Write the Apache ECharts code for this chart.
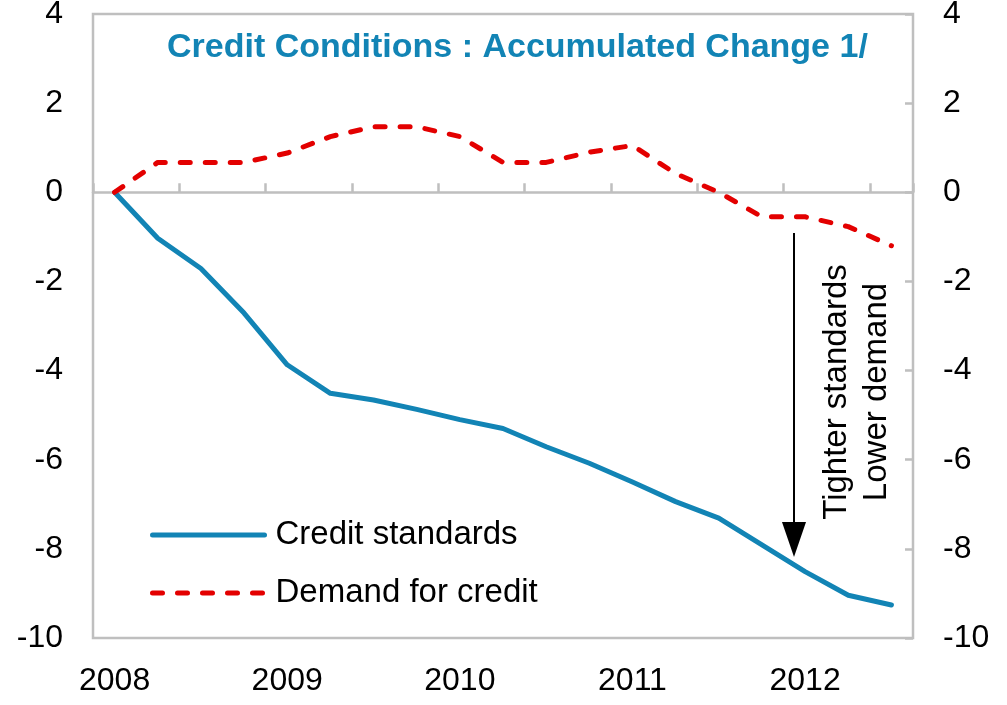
<!DOCTYPE html>
<html><head><meta charset="utf-8">
<script src="https://cdn.jsdelivr.net/npm/echarts@6/dist/echarts.min.js"></script>
<style>html,body{margin:0;padding:0;background:#fff}#c{width:1007px;height:705px}</style>
</head><body><div id="c"></div>
<script>
const quarters = ['2008Q1','2008Q2','2008Q3','2008Q4','2009Q1','2009Q2','2009Q3','2009Q4','2010Q1','2010Q2','2010Q3','2010Q4','2011Q1','2011Q2','2011Q3','2011Q4','2012Q1','2012Q2','2012Q3'];
const creditStandards = [0, -1.03, -1.71, -2.71, -3.87, -4.51, -4.66, -4.87, -5.1, -5.3, -5.71, -6.08, -6.5, -6.94, -7.31, -7.91, -8.51, -9.04, -9.26];
const demandForCredit = [0, 0.67, 0.67, 0.67, 0.88, 1.25, 1.47, 1.47, 1.25, 0.67, 0.67, 0.9, 1.05, 0.42, 0, -0.55, -0.55, -0.77, -1.2];
const seriesNames = ['Credit standards', 'Demand for credit'];
const titleText = 'Credit Conditions : Accumulated Change 1/';
const annotationText = 'Tighter standards\nLower demand';

const FONT = "'Liberation Sans', Arial, sans-serif";
const GRAY = '#BFBFBF';
const BLUE = '#1284B5';
const RED = '#E30000';

const chart = echarts.init(document.getElementById('c'), null, {renderer: 'canvas'});
chart.setOption({
  animation: false,
  backgroundColor: '#fff',
  title: {
    text: titleText, left: 167, top: 31, padding: 0,
    textStyle: {fontFamily: FONT, fontSize: 34, fontWeight: 'bold', color: BLUE}
  },
  legend: {
    orient: 'vertical', left: 150, top: 517, padding: 0, itemGap: 22,
    itemWidth: 112, itemHeight: 5,
    itemStyle: {opacity: 0},
    lineStyle: {width: 5, cap: 'round'},
    textStyle: {fontFamily: FONT, fontSize: 33, color: '#000', lineHeight: 36, padding: [0,0,0,6]},
    data: seriesNames
  },
  grid: {left: 93, right: 94, top: 14, bottom: 67, show: true, borderColor: GRAY, borderWidth: 2.5, outerBoundsMode: 'none', containLabel: false},
  xAxis: [
    {type: 'category', data: quarters, boundaryGap: true, position: 'bottom',
     axisLine: {show: false, onZero: false}, axisTick: {show: false},
     axisLabel: {interval: 3, formatter: v => v.slice(0, 4), margin: 27, fontFamily: FONT, fontSize: 32, color: '#000'},
     splitLine: {show: false}},
    {type: 'category', data: quarters, boundaryGap: true, position: 'top',
     axisLine: {show: true, onZero: true, lineStyle: {color: GRAY, width: 2.5}},
     axisTick: {show: true, interval: 1, inside: false, length: 9, lineStyle: {color: GRAY, width: 2.5}},
     axisLabel: {show: false}, splitLine: {show: false}}
  ],
  yAxis: [
    {type: 'value', min: -10, max: 4, interval: 2, position: 'left',
     axisLine: {show: false}, axisTick: {show: false}, splitLine: {show: false},
     axisLabel: {margin: 30, fontFamily: FONT, fontSize: 32, color: '#000'}},
    {type: 'value', min: -10, max: 4, interval: 2, position: 'right',
     axisLine: {show: false}, axisTick: {show: true, inside: true, length: 8, lineStyle: {color: GRAY, width: 2.5}},
     splitLine: {show: false},
     axisLabel: {margin: 30, fontFamily: FONT, fontSize: 32, color: '#000'}}
  ],
  series: [
    {name: seriesNames[0], type: 'line', xAxisIndex: 0, yAxisIndex: 0, data: creditStandards,
     symbol: 'none', lineStyle: {color: BLUE, width: 5, join: 'round', cap: 'round'}, itemStyle: {color: BLUE}, z: 3},
    {name: seriesNames[1], type: 'line', xAxisIndex: 0, yAxisIndex: 0, data: demandForCredit,
     symbol: 'none', lineStyle: {color: RED, width: 5, type: [10, 15], cap: 'round', join: 'round'}, itemStyle: {color: RED}, z: 3}
  ],
  graphic: [
    {type: 'line', shape: {x1: 794, y1: 233, x2: 794, y2: 525}, style: {stroke: '#000', lineWidth: 2}, z: 10},
    {type: 'polygon', shape: {points: [[782, 522], [806, 522], [794, 557]]}, style: {fill: '#000'}, z: 10},
    {type: 'text', x: 857, y: 392, rotation: Math.PI / 2, z: 10,
     style: {text: annotationText, font: "33px 'Liberation Sans', Arial, sans-serif", fill: '#000', align: 'center', verticalAlign: 'middle', lineHeight: 40}}
  ]
});
</script>
</body></html>
